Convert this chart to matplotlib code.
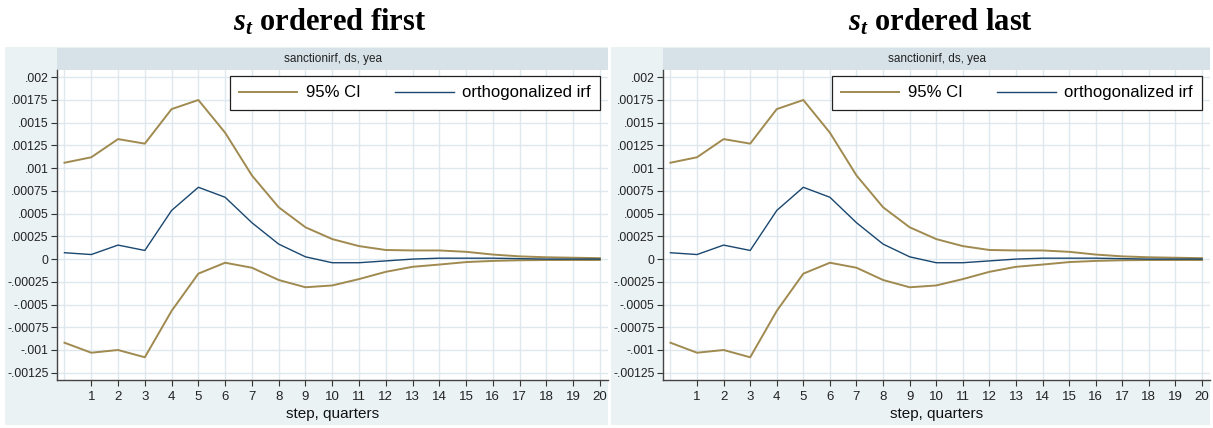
import matplotlib.pyplot as plt
from matplotlib.patches import Rectangle

# ── data (both panels show the same IRF) ──────────────────────────────────────
steps = list(range(21))
ci_upper = [0.00106, 0.00112, 0.00132, 0.00127, 0.00165, 0.00175, 0.00139,
            0.00092, 0.00057, 0.00035, 0.00022, 0.000143, 0.00010, 0.000095,
            0.000095, 0.00008, 0.00005, 0.00003, 0.00002, 0.000015, 0.00001]
irf = [0.00007, 0.00005, 0.000154, 0.000095, 0.000535, 0.00079, 0.00068,
       0.00040, 0.000165, 0.000025, -0.00004, -0.00004, -0.00002, 0.0,
       0.00001, 0.00001, 0.00001, 0.000005, 0.0, 0.0, 0.0]
ci_lower = [-0.00092, -0.00103, -0.00100, -0.00108, -0.00057, -0.00016,
            -0.00004, -0.000095, -0.00023, -0.00031, -0.00029, -0.00022,
            -0.00014, -0.000085, -0.00006, -0.000033, -0.00002, -0.000013,
            -0.00001, -0.00001, -0.00001]

yticks = [-0.00125, -0.001, -0.00075, -0.0005, -0.00025, 0, 0.00025, 0.0005,
          0.00075, 0.001, 0.00125, 0.0015, 0.00175, 0.002]
ytick_labels = ["-.00125", "-.001", "-.00075", "-.0005", "-.00025", "0",
                ".00025", ".0005", ".00075", ".001", ".00125", ".0015",
                ".00175", ".002"]
xticks = list(range(1, 21))

titles = [r"$s_t$ ordered first", r"$s_t$ ordered last"]
subtitle = "sanctionirf, ds, yea"

# ── style ─────────────────────────────────────────────────────────────────────
CI_COLOR = "#a08a50"
IRF_COLOR = "#1a476f"
OUTER_BG = "#eaf2f3"
STRIP_BG = "#d6e2e8"
GRID = "#dde8ef"

W, H = 1213, 428
plt.rcParams["font.family"] = ["Liberation Sans", "DejaVu Sans"]
plt.rcParams["mathtext.fontset"] = "custom"
plt.rcParams["mathtext.it"] = "Liberation Serif:bold:italic"
plt.rcParams["mathtext.rm"] = "Liberation Serif:bold"

fig = plt.figure(figsize=(W / 100, H / 100), dpi=100)
fig.patch.set_facecolor("white")

# panel geometry in pixels: (bg_left, bg_right, ax_left, ax_right, title_x)
panels = [
    (5, 608, 57, 608, 330),
    (611, 1210, 663, 1210, 940),
]
bg_top, bg_bottom = 47, 425
ax_top, ax_bottom = 70, 380
strip_top = 48


def fx(px):
    return px / W


def fy(py):
    return 1 - py / H


for (bl, br, al, ar, tx), title in zip(panels, titles):
    fig.patches.append(Rectangle((fx(bl), fy(bg_bottom)), fx(br - bl),
                                 (bg_bottom - bg_top) / H, transform=fig.transFigure,
                                 facecolor=OUTER_BG, edgecolor="none", zorder=-2))
    fig.patches.append(Rectangle((fx(al), fy(ax_top)), fx(ar - al),
                                 (ax_top - strip_top) / H, transform=fig.transFigure,
                                 facecolor=STRIP_BG, edgecolor="none", zorder=-1))
    fig.text(fx((al + ar) / 2), fy((ax_top + strip_top) / 2), subtitle,
             ha="center", va="center", fontsize=8.5, color="#222222")
    fig.text(fx(tx), fy(22), title, ha="center", va="center", fontsize=22,
             fontweight="bold", family="Liberation Serif")

    ax = fig.add_axes([fx(al), fy(ax_bottom), fx(ar - al), (ax_bottom - ax_top) / H])
    ax.set_facecolor("white")

    for x in steps:
        ax.axvline(x, color=GRID, lw=1.0, zorder=0)
    for y in yticks:
        ax.axhline(y, color=GRID, lw=1.0, zorder=0)

    l1, = ax.plot(steps, ci_upper, color=CI_COLOR, lw=1.4, label="95% CI", zorder=2)
    ax.plot(steps, ci_lower, color=CI_COLOR, lw=1.4, zorder=2)
    l2, = ax.plot(steps, irf, color=IRF_COLOR, lw=1.0, label="orthogonalized irf", zorder=3)

    ax.set_xlim(-0.28, 20.3)
    ax.set_ylim(-0.00133, 0.00208)
    ax.set_yticks(yticks)
    ax.set_yticklabels(ytick_labels)
    ax.set_xticks(xticks)
    ax.set_xticklabels([str(x) for x in xticks])
    ax.tick_params(axis="both", length=4, width=0.8, color="#333333",
                   labelcolor="#222222", pad=2)
    ax.tick_params(axis="y", labelsize=8.7)
    ax.tick_params(axis="x", labelsize=9.5, pad=4)
    for side in ("top", "right"):
        ax.spines[side].set_visible(False)
    for side in ("left", "bottom"):
        ax.spines[side].set_color("#444444")
        ax.spines[side].set_linewidth(1.0)

    ax.set_xlabel("step, quarters", fontsize=11, labelpad=3, color="#111111")

    leg = ax.legend(handles=[l1, l2], loc="upper right", ncol=2, fontsize=12,
                    frameon=True, fancybox=False, framealpha=1, edgecolor="#222222",
                    handlelength=3.5, handletextpad=0.5, columnspacing=2.1,
                    borderpad=0.55, borderaxespad=0,
                    bbox_to_anchor=(0.985, 0.98))
    leg.get_frame().set_linewidth(0.9)

fig.savefig("out.png", dpi=100, facecolor=fig.get_facecolor())
